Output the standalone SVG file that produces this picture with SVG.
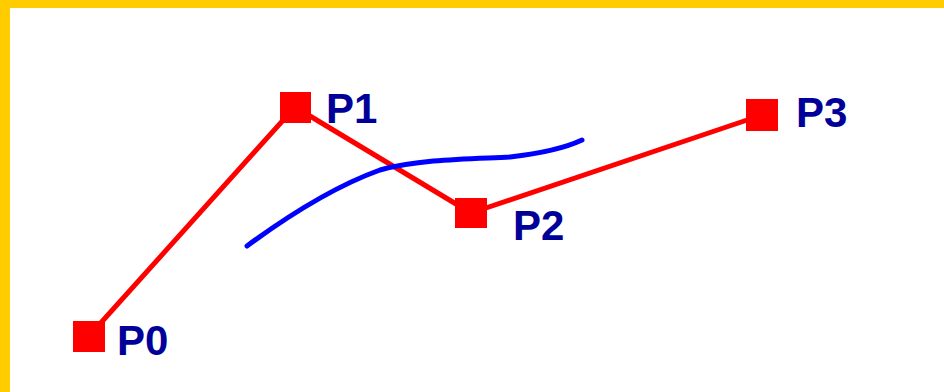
<svg xmlns="http://www.w3.org/2000/svg" width="944" height="392" viewBox="0 0 944 392">
  <style>
    .pt { fill: #ff0000; }
    .lbl { font-family: "Liberation Sans", Arial, sans-serif; font-weight: bold; font-size: 42px; fill: #000099; }
    .edge { fill: none; stroke: #ff0000; stroke-width: 5; stroke-linejoin: round; }
    .curve { fill: none; stroke: #0000ff; stroke-width: 5; stroke-linecap: round; stroke-linejoin: round; }
  </style>
  <!-- background and frame -->
  <rect x="0" y="0" width="944" height="392" fill="#ffffff"/>
  <rect x="0" y="0" width="944" height="8" fill="#ffcc00"/>
  <rect x="0" y="0" width="10" height="392" fill="#ffcc00"/>

  <!-- control polygon and curve -->
  <g id="connectors">
    <polyline class="edge" points="89,336 295,107 471,213 762,115"/>
    <path class="curve" d="M247,246 C285,218 330,188 380,170 C420,159 470,159 510,157 C545,153 565,148 582,140"/>
  </g>

  <g id="p0">
    <rect class="pt" x="73" y="321" width="32" height="31"/>
    <text class="lbl" x="117" y="355">P0</text>
  </g>
  <g id="p1">
    <rect class="pt" x="280" y="92" width="31" height="31"/>
    <text class="lbl" x="326" y="123">P1</text>
  </g>
  <g id="p2">
    <rect class="pt" x="455" y="198" width="32" height="30"/>
    <text class="lbl" x="513" y="240">P2</text>
  </g>
  <g id="p3">
    <rect class="pt" x="746" y="99" width="32" height="32"/>
    <text class="lbl" x="796" y="127">P3</text>
  </g>
</svg>
